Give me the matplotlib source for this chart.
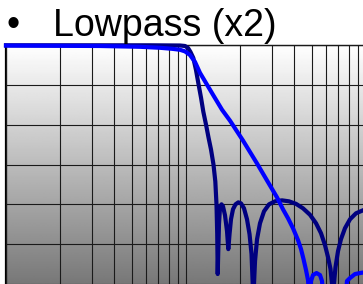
import numpy as np
import matplotlib
matplotlib.use("Agg")
import matplotlib.pyplot as plt
from matplotlib.ticker import LogLocator, MultipleLocator, NullFormatter

# ---- data (normalised frequency, dB) ----
title_text = "Lowpass (x2)"
bullet = "\u2022"

elliptic_f = [1.0, 6.31, 9.26, 9.87, 10.26, 10.59, 10.98, 11.36, 11.70, 12.12,
              12.48, 12.92, 13.34, 13.77, 14.21, 14.55, 14.77, 14.91, 15.00, 15.12,
              15.25, 15.45, 15.75, 16.05, 16.47, 16.90, 17.18, 17.45, 17.78, 18.24,
              18.84, 19.53, 20.21, 21.00, 21.82, 22.54, 23.12, 23.66, 24.18, 24.81,
              25.77, 27.13, 28.92, 31.23, 34.15, 37.35, 40.84, 44.67, 48.86, 52.76,
              56.23, 59.18, 61.50, 63.50, 65.56, 67.70, 69.90, 72.61, 76.41, 81.51,
              88.01, 96.23]
elliptic_db = [-0.15, -0.15, -0.25, -0.5, -1.5, -3.5, -6.5, -12.5, -19, -26.5,
               -33.5, -40, -46.5, -52.5, -60, -68.5, -80, -95, -115, -102.5,
               -90, -81.5, -80, -81, -85.5, -93.5, -102.5, -95, -87.5, -82.5,
               -80, -79, -79.5, -82, -87.5, -95, -105, -127.5, -108.5, -97.5,
               -89.5, -83.5, -80, -78.5, -78, -78.5, -79.75, -82, -85.25, -89.5,
               -94.5, -100.5, -106.5, -112.5, -125, -111.5, -103.5, -97.5, -92, -87.5,
               -84.5, -83]

smooth_f = [1.0, 3.33, 5.55, 7.17, 8.36, 9.26, 9.87, 10.52, 11.22, 11.96,
            13.00, 14.13, 15.85, 17.56, 20.74, 24.81, 28.18, 32.03, 34.58, 36.88,
            39.30, 41.91, 43.55, 44.96, 46.42, 47.62, 48.54, 49.49, 50.76, 53.09,
            55.52, 56.96, 57.92, 66.42, 76.90, 78.39, 81.51, 86.90, 92.64, 96.23]
smooth_db = [-0.3, -0.5, -0.9, -1.4, -1.9, -2.4, -3.2, -5, -8.5, -14,
             -19.5, -25, -32.5, -38, -48, -59.5, -68, -76.5, -82.5, -87,
             -92, -98, -102.5, -107.5, -113, -118, -127.5, -118.5, -115.5, -114.5,
             -115.5, -118.5, -127.5, -122.5, -127.5, -118.5, -117, -115, -114.5, -114.25]

W, H = 363, 284
fig = plt.figure(figsize=(W / 100, H / 100), dpi=100)
fig.patch.set_facecolor("white")

ax = fig.add_axes([6 / W, 0, 357 / W, 239 / H])
ax.set_xscale("log")
ax.set_xlim(1, 96.23)
ax.set_ylim(-120, 0)

# gradient background
grad = np.linspace(0.47, 1.0, 256).reshape(-1, 1)
ax.imshow(grad, cmap="gray", vmin=0, vmax=1, aspect="auto",
          extent=[0, 1, 0, 1], transform=ax.transAxes, origin="lower", zorder=0)

ax.xaxis.set_major_locator(LogLocator(base=10))
ax.xaxis.set_minor_locator(LogLocator(base=10, subs=np.arange(2, 10)))
ax.yaxis.set_major_locator(MultipleLocator(20))
ax.grid(True, which="major", color="#1a1a1a", linewidth=0.8, zorder=1)
ax.grid(True, which="minor", axis="x", color="#1a1a1a", linewidth=0.8, zorder=1)
ax.set_axisbelow(False)
ax.tick_params(which="both", length=0, labelbottom=False, labelleft=False)
ax.xaxis.set_minor_formatter(NullFormatter())

for side in ["right", "bottom"]:
    ax.spines[side].set_visible(False)
ax.spines["left"].set_linewidth(1.6)
ax.spines["top"].set_linewidth(1.0)

ax.plot(elliptic_f, elliptic_db, color="#000080", linewidth=3.0,
        solid_joinstyle="round", zorder=3, clip_on=False)
ax.plot(smooth_f, smooth_db, color="#0000FF", linewidth=3.0,
        solid_joinstyle="round", zorder=4, clip_on=False)

fig.text(6 / W, 1 - 36 / H, bullet, fontsize=27, family="Liberation Sans",
         va="baseline", ha="left")
fig.text(53 / W, 1 - 36 / H, title_text, fontsize=27, family="Liberation Sans",
         va="baseline", ha="left")

fig.savefig("out.png", dpi=100)
